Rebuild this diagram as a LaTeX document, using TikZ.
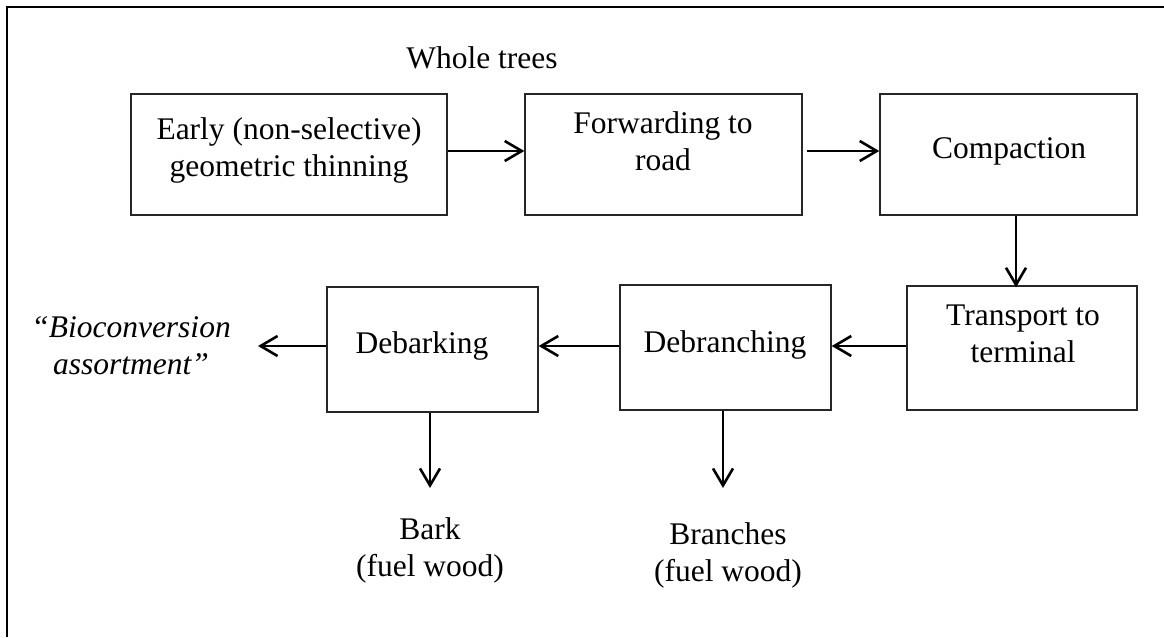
\documentclass[tikz,border=0pt]{standalone}
\usepackage{fontspec}
\setmainfont{Liberation Serif}
\usetikzlibrary{arrows.meta}
\begin{document}
\begin{tikzpicture}[x=1pt,y=-1pt,
  stepbox/.style={draw=black!85, line width=1.4pt, rectangle, inner sep=0pt},
  lbl/.style={font=\fontsize{31.5}{37}\selectfont, align=center, inner sep=0pt, anchor=base},
  flow/.style={line width=2.6pt, -{Straight Barb[length=17pt,width=20pt]}},
]
\useasboundingbox (0,0) rectangle (1164,637);
% outer frame: top and left edges
\draw[line width=2.6pt] (7,637) -- (7,7) -- (1164,7);

% process boxes
\node[stepbox, minimum width=316pt, minimum height=121pt] (thin)  at (289,154.5) {};
\node[stepbox, minimum width=277pt, minimum height=121pt] (fwd)   at (663.5,154.5) {};
\node[stepbox, minimum width=257pt, minimum height=121pt] (comp)  at (1008.5,154.5) {};
\node[stepbox, minimum width=230pt, minimum height=124pt] (trans) at (1022,348) {};
\node[stepbox, minimum width=211pt, minimum height=125pt] (debr)  at (725.5,347.5) {};
\node[stepbox, minimum width=211pt, minimum height=125pt] (deba)  at (432.5,349.5) {};

% texts (multi-line nodes sit on the baseline of their last line)
\node[lbl] (whole)     at (482,68)   {Whole trees};
\node[lbl] (thintxt)   at (289,176)  {Early (non-selective)\\geometric thinning};
\node[lbl] (fwdtxt)    at (663,170)  {Forwarding to\\road};
\node[lbl] (comptxt)   at (1009,158) {Compaction};
\node[lbl] (transtxt)  at (1023,362) {Transport to\\terminal};
\node[lbl] (debrtxt)   at (725,352)  {Debranching};
\node[lbl] (debatxt)   at (422,353)  {Debarking};
\node[lbl, font=\fontsize{31.5}{37}\selectfont\itshape] (bio) at (131,374) {“Bioconversion\\assortment”};
\node[lbl] (bark)      at (430,576)  {Bark\\(fuel wood)};
\node[lbl] (branches)  at (728,581)  {Branches\\(fuel wood)};

% connector guides
\coordinate (r1) at (0,151);
\coordinate (r2) at (0,346);
\coordinate (c1) at (1016,0);
\coordinate (bioend) at (258,346);
\coordinate (barkend) at (430,488);
\coordinate (branchend) at (723,488);

% connectors
\draw[flow] (thin.east |- r1) -- (fwd.west |- r1);
\draw[flow] ([xshift=4pt]fwd.east |- r1) -- (comp.west |- r1);
\draw[flow] (comp.south -| c1) -- ([yshift=-2pt]trans.north -| c1);
\draw[flow] (trans.west |- r2) -- (debr.east |- r2);
\draw[flow] (debr.west |- r2) -- (deba.east |- r2);
\draw[flow] (deba.west |- r2) -- (bioend);
\draw[flow] (deba.south -| barkend) -- (barkend);
\draw[flow] (debr.south -| branchend) -- (branchend);
\end{tikzpicture}
\end{document}
